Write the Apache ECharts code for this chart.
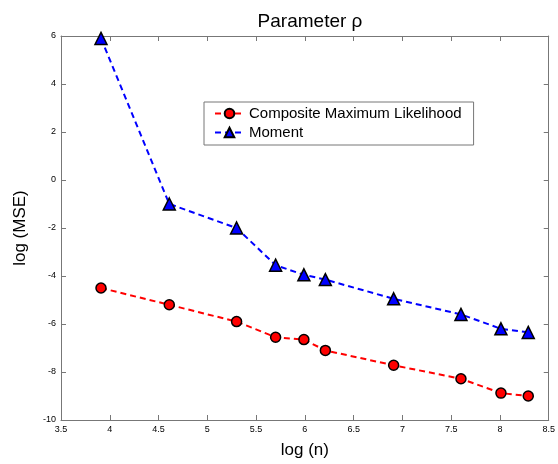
<!DOCTYPE html>
<html><head><meta charset="utf-8">
<script src="https://cdn.jsdelivr.net/npm/echarts@6/dist/echarts.min.js"></script>
<style>html,body{margin:0;padding:0;background:#fff}#c{width:558px;height:464px}</style>
</head><body><div id="c"></div>
<script>
const logN = [3.91, 4.61, 5.30, 5.70, 5.99, 6.21, 6.91, 7.60, 8.01, 8.29];
const cmlValues = [-4.5, -5.2, -5.9, -6.55, -6.65, -7.1, -7.72, -8.28, -8.88, -9.0];
const momentValues = [5.9, -1.0, -2.0, -3.55, -3.95, -4.15, -4.95, -5.6, -6.2, -6.35];
const seriesNames = ['Composite Maximum Likelihood', 'Moment'];
const xTicks = {min: 3.5, max: 8.5, interval: 0.5};
const yTicks = {min: -10, max: 6, interval: 2};

const font = 'Liberation Sans, Arial, sans-serif';
const chart = echarts.init(document.getElementById('c'), null, {renderer: 'canvas'});
const axisLine = {show: true, onZero: false, lineStyle: {color: '#777', width: 1}};
const tick = {show: true, inside: true, length: 5, lineStyle: {color: '#777'}};
const lbl = {color: '#000', fontSize: 9, fontFamily: font};
chart.setOption({
  animation: false,
  title: {text: 'Parameter ρ', left: 305, top: 7, textAlign: 'center',
    textStyle: {fontFamily: font, fontSize: 19, fontWeight: 'normal', color: '#000'}},
  grid: {left: 61, right: 7, top: 36, bottom: 42},
  legend: {
    left: 204, top: 102, orient: 'vertical', itemGap: 4, itemWidth: 29, itemHeight: 12,
    padding: [4, 12, 5, 10], borderColor: '#777', borderWidth: 1, backgroundColor: '#fff',
    textStyle: {fontFamily: font, fontSize: 15, color: '#000', lineHeight: 15},
    data: seriesNames
  },
  xAxis: [{
    type: 'value', min: xTicks.min, max: xTicks.max, interval: xTicks.interval,
    name: 'log (n)', nameLocation: 'middle', nameGap: 22,
    nameTextStyle: {fontFamily: font, fontSize: 17, color: '#000'},
    axisLine, axisTick: tick, splitLine: {show: false},
    axisLabel: Object.assign({margin: 5}, lbl)
  }, {
    type: 'value', position: 'top', min: xTicks.min, max: xTicks.max, interval: xTicks.interval,
    axisLine, axisTick: tick, splitLine: {show: false}, axisLabel: {show: false}
  }],
  yAxis: [{
    type: 'value', min: yTicks.min, max: yTicks.max, interval: yTicks.interval,
    name: 'log (MSE)', nameLocation: 'middle', nameGap: 32, nameRotate: 90,
    nameTextStyle: {fontFamily: font, fontSize: 17, color: '#000'},
    axisLine, axisTick: tick, splitLine: {show: false},
    axisLabel: Object.assign({margin: 5}, lbl)
  }, {
    type: 'value', position: 'right', min: yTicks.min, max: yTicks.max, interval: yTicks.interval,
    axisLine, axisTick: tick, splitLine: {show: false}, axisLabel: {show: false}
  }],
  series: [{
    name: seriesNames[0], type: 'line', data: logN.map((x, i) => [x, cmlValues[i]]),
    symbol: 'circle', symbolSize: 10,
    lineStyle: {color: '#ff0000', width: 2, type: [6, 4]},
    itemStyle: {color: '#ff0000', borderColor: '#000', borderWidth: 1.5}
  }, {
    name: seriesNames[1], type: 'line', data: logN.map((x, i) => [x, momentValues[i]]),
    symbol: 'triangle', symbolSize: 12,
    lineStyle: {color: '#0000ff', width: 2, type: [6, 4]},
    itemStyle: {color: '#0000ff', borderColor: '#000', borderWidth: 1.5}
  }]
});
</script></body></html>
